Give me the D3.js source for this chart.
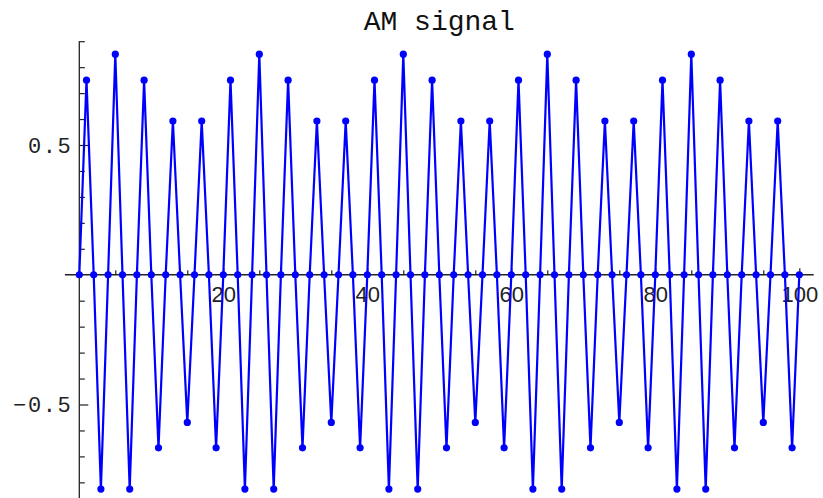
<!DOCTYPE html>
<html>
<head>
<meta charset="utf-8">
<script src="https://cdn.jsdelivr.net/npm/d3@7"></script>
<style>
  html, body { margin: 0; padding: 0; background: #fff; }
  svg { display: block; }
</style>
</head>
<body>
<svg id="chart" width="823" height="498"></svg>
<script>
const title = "AM signal";
const xIndex = d3.range(0, 101);
const values = [
  0,
  0.75, 0, -0.826, 0, 0.85, 0, -0.826, 0, 0.75, 0,
  -0.667, 0, 0.5925, 0, -0.569, 0, 0.5925, 0, -0.667, 0,
  0.75, 0, -0.826, 0, 0.85, 0, -0.826, 0, 0.75, 0,
  -0.667, 0, 0.5925, 0, -0.569, 0, 0.5925, 0, -0.667, 0,
  0.75, 0, -0.826, 0, 0.85, 0, -0.826, 0, 0.75, 0,
  -0.667, 0, 0.5925, 0, -0.569, 0, 0.5925, 0, -0.667, 0,
  0.75, 0, -0.826, 0, 0.85, 0, -0.826, 0, 0.75, 0,
  -0.667, 0, 0.5925, 0, -0.569, 0, 0.5925, 0, -0.667, 0,
  0.75, 0, -0.826, 0, 0.85, 0, -0.826, 0, 0.75, 0,
  -0.667, 0, 0.5925, 0, -0.569, 0, 0.5925, 0, -0.667, 0
];
const xMajorTicks = [20, 40, 60, 80, 100];
const xMinorTicks = [5, 10, 15, 25, 30, 35, 45, 50, 55, 65, 70, 75, 85, 90, 95];
const yMajorTicks = [-0.5, 0.5];
const yMinorTicks = [-0.8, -0.7, -0.6, -0.4, -0.3, -0.2, -0.1, 0.1, 0.2, 0.3, 0.4, 0.6, 0.7, 0.8, 0.9];
const xAxisExtent = [-2, 102];
const yAxisExtent = [-0.87, 0.9];

const svg = d3.select("#chart");
const x = d3.scaleLinear().domain([0, 100]).range([79.3, 799.3]);
const y = d3.scaleLinear().domain([-0.5, 0.5]).range([404.5, 145]);

const x0 = x(0), y0 = y(0);
const axisColor = "#222";

// axes lines
svg.append("line")
  .attr("x1", x(xAxisExtent[0])).attr("x2", x(xAxisExtent[1]))
  .attr("y1", y0).attr("y2", y0)
  .attr("stroke", axisColor).attr("stroke-width", 1.3);
svg.append("line")
  .attr("x1", x0).attr("x2", x0)
  .attr("y1", y(yAxisExtent[1])).attr("y2", y(yAxisExtent[0]))
  .attr("stroke", axisColor).attr("stroke-width", 1.3);

// x axis ticks (pointing up)
const gx = svg.append("g").attr("transform", `translate(0,${y0})`);
gx.call(d3.axisBottom(x).tickValues(xMinorTicks).tickSize(-4.5).tickFormat(""))
  .call(g => g.select(".domain").remove());
const gxMaj = svg.append("g").attr("transform", `translate(0,${y0})`);
gxMaj.call(d3.axisBottom(x).tickValues(xMajorTicks).tickSize(-6.5).tickFormat(d3.format("d")))
  .call(g => g.select(".domain").remove());
gxMaj.selectAll("text")
  .attr("y", 27).attr("dy", null)
  .attr("font-family", "'Liberation Sans', Arial, sans-serif")
  .attr("font-size", 22).attr("fill", "#222");
svg.selectAll(".tick line").attr("stroke", axisColor).attr("stroke-width", 1.2);

// y axis ticks (pointing right)
const gy = svg.append("g").attr("transform", `translate(${x0},0)`);
gy.call(d3.axisLeft(y).tickValues(yMinorTicks).tickSize(-5.5).tickFormat(""))
  .call(g => g.select(".domain").remove());
const gyMaj = svg.append("g").attr("transform", `translate(${x0},0)`);
gyMaj.call(d3.axisLeft(y).tickValues(yMajorTicks).tickSize(-9)
    .tickFormat(d => (d < 0 ? "\u2212" : "") + Math.abs(d).toString()))
  .call(g => g.select(".domain").remove());
gyMaj.selectAll("text")
  .attr("x", -7).attr("dy", "0.32em")
  .attr("font-family", "'Liberation Mono', 'DejaVu Sans Mono', monospace")
  .attr("font-size", 22).attr("letter-spacing", "1.6px").attr("fill", "#222");
svg.selectAll(".tick line").attr("stroke", axisColor).attr("stroke-width", 1.2);

// title
svg.append("text")
  .attr("x", (x(0) + x(100)) / 2).attr("y", 30)
  .attr("text-anchor", "middle")
  .attr("font-family", "'Courier New', 'Liberation Mono', monospace")
  .attr("font-size", 28).attr("fill", "#111")
  .text(title);

// data
const data = xIndex.map((d, i) => ({ x: d, y: values[i] }));
svg.append("path")
  .datum(data)
  .attr("fill", "none")
  .attr("stroke", "#0000ff")
  .attr("stroke-width", 2.2)
  .attr("stroke-linejoin", "miter")
  .attr("d", d3.line().x(d => x(d.x)).y(d => y(d.y)));
svg.append("g").selectAll("circle")
  .data(data).join("circle")
  .attr("cx", d => x(d.x)).attr("cy", d => y(d.y))
  .attr("r", 3.6).attr("fill", "#0000ff");
</script>
</body>
</html>
